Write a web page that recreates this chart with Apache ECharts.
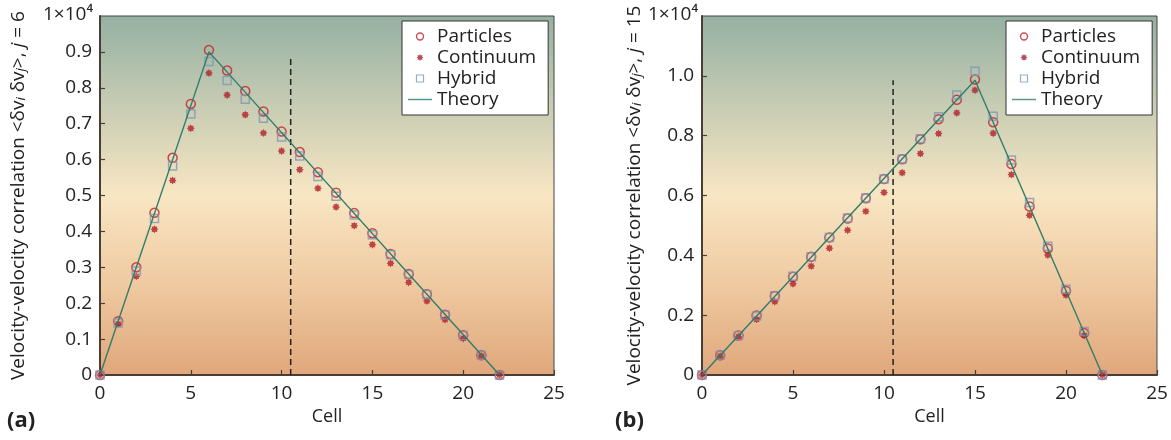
<!DOCTYPE html>
<html>
<head>
<meta charset="utf-8">
<script src="https://cdn.jsdelivr.net/npm/echarts@6/dist/echarts.min.js"></script>
<style>
html,body{margin:0;padding:0;background:#fff;}
#c{width:1171px;height:440px;}
</style>
</head>
<body>
<div id="c"></div>
<script>
// ---- data (values in units of 1x10^4) ----
var cells = [0,1,2,3,4,5,6,7,8,9,10,11,12,13,14,15,16,17,18,19,20,21,22];

var aParticles = [0,0.150,0.300,0.452,0.605,0.755,0.905,0.848,0.791,0.734,0.678,0.621,0.565,0.508,0.451,0.395,0.337,0.281,0.225,0.168,0.111,0.055,0];
var aContinuum = [0,0.142,0.275,0.406,0.542,0.687,0.841,0.780,0.725,0.674,0.624,0.572,0.520,0.468,0.416,0.363,0.311,0.258,0.206,0.154,0.102,0.053,0];
var aHybrid    = [0,0.145,0.290,0.436,0.582,0.727,0.873,0.820,0.768,0.715,0.663,0.610,0.553,0.498,0.446,0.391,0.335,0.280,0.224,0.167,0.110,0.055,0];
var aTheoryX = [0,6,22];
var aTheoryY = [0,0.9,0];
var aDashX = [10.5,10.5];
var aDashY = [0,0.89];

var bParticles = [0,0.066,0.132,0.199,0.264,0.328,0.395,0.460,0.523,0.591,0.655,0.721,0.788,0.855,0.920,0.988,0.845,0.705,0.563,0.423,0.281,0.140,0];
var bContinuum = [0,0.063,0.128,0.186,0.245,0.305,0.364,0.424,0.484,0.547,0.610,0.676,0.740,0.807,0.876,0.952,0.808,0.670,0.534,0.401,0.267,0.132,0];
var bHybrid    = [0,0.066,0.131,0.197,0.265,0.330,0.395,0.460,0.525,0.592,0.655,0.722,0.790,0.863,0.936,1.015,0.865,0.719,0.577,0.430,0.287,0.145,0];
var bTheoryX = [0,15,22];
var bTheoryY = [0,0.985,0];
var bDashX = [10.5,10.5];
var bDashY = [0,0.985];

var seriesNames = ['Particles','Continuum','Hybrid','Theory'];
var xTicks = {min:0, max:25, interval:5};
var aY = {min:0, max:1.0, interval:0.1};
var bY = {min:0, max:1.2, interval:0.2};
var topLabel = '1×10⁴';

function pairs(xs, ys){ return xs.map(function(x,i){ return [x, ys[i]]; }); }

var FONT = '"Open Sans", "Noto Sans", sans-serif';
var RED = '#c4222b';
var RED2 = '#b01e28';
var BLUE = '#7f97b4';
var TEAL = '#2f7d6a';
var STAR = 'path://M0,-10 L2.49,-6 L7.07,-7.07 L6,-2.49 L10,0 L6,2.49 L7.07,7.07 L2.49,6 L0,10 L-2.49,6 L-7.07,7.07 L-6,2.49 L-10,0 L-6,-2.49 L-7.07,-7.07 L-2.49,-6 Z';
var SQUARE = 'path://M0,0 L10,0 L10,10 L0,10 Z';
var BAR = 'path://M0,0 L24,0 L24,1.5 L0,1.5 Z';

function bg(){
  return new echarts.graphic.LinearGradient(0,0,0,1,[
    {offset:0, color:'#94b0a2'},
    {offset:0.25, color:'#c7ccb3'},
    {offset:0.5, color:'#f8e6c3'},
    {offset:0.75, color:'#efc9a0'},
    {offset:1, color:'#e0a77b'}
  ]);
}

function yAxisFor(idx, cfg, name, gap){
  return {
    type:'value', gridIndex:idx, min:cfg.min, max:cfg.max, interval:cfg.interval,
    axisLine:{show:true, lineStyle:{color:'#4a3d33', width:2}},
    axisTick:{show:true, inside:true, length:5, lineStyle:{color:'#4a3d33', width:1.2}},
    splitLine:{show:false},
    axisLabel:{color:'#222', fontFamily:FONT, fontSize:19, margin:8, showMaxLabel:false,
      formatter:function(v){
        if (v === 0) return '0';
        return v.toFixed(1);
      }
    },
    name:name, nameLocation:'middle', nameRotate:90, nameGap:gap,
    nameTextStyle:{color:'#222', fontFamily:FONT, fontSize:19,
      rich:{
        s:{fontSize:13, fontFamily:FONT, fontStyle:'italic', color:'#222', verticalAlign:'bottom', lineHeight:15},
        it:{fontSize:19, fontFamily:FONT, fontStyle:'italic', color:'#222'}
      }}
  };
}

function xAxisFor(idx){
  return {
    type:'value', gridIndex:idx, min:xTicks.min, max:xTicks.max, interval:xTicks.interval,
    axisLine:{show:true, onZero:false, lineStyle:{color:'#4a3d33', width:2}},
    axisTick:{show:true, inside:true, length:5, lineStyle:{color:'#4a3d33', width:1.2}},
    splitLine:{show:false},
    axisLabel:{color:'#222', fontFamily:FONT, fontSize:19, margin:9},
    name:'Cell', nameLocation:'middle', nameGap:29,
    nameTextStyle:{color:'#222', fontFamily:FONT, fontSize:18}
  };
}

function seriesFor(idx, P, C, H, TX, TY, DX, DY){
  return [
    {name:'Particles', type:'scatter', xAxisIndex:idx, yAxisIndex:idx, symbol:'circle', symbolSize:9,
      itemStyle:{color:'rgba(0,0,0,0)', borderColor:RED, borderWidth:1.5}, data:pairs(cells,P), z:3},
    {name:'Continuum', type:'scatter', xAxisIndex:idx, yAxisIndex:idx, symbol:STAR, symbolSize:8,
      itemStyle:{color:RED2}, data:pairs(cells,C), z:3},
    {name:'Hybrid', type:'scatter', xAxisIndex:idx, yAxisIndex:idx, symbol:'rect', symbolSize:8,
      itemStyle:{color:'rgba(0,0,0,0)', borderColor:BLUE, borderWidth:1.5}, data:pairs(cells,H), z:3},
    {name:'Theory', type:'line', xAxisIndex:idx, yAxisIndex:idx, symbol:'none', showSymbol:false,
      lineStyle:{color:TEAL, width:1.4}, itemStyle:{color:TEAL}, data:pairs(TX,TY), z:4, animation:false},
    {name:'dash', type:'line', xAxisIndex:idx, yAxisIndex:idx, symbol:'none', showSymbol:false,
      lineStyle:{color:'#222', width:1.5, type:[6,4]}, data:pairs(DX,DY), z:2, animation:false}
  ];
}

function legendFor(left){
  return {
    data:[
      {name:'Particles', icon:'circle', itemStyle:{color:'rgba(0,0,0,0)', borderColor:RED, borderWidth:1.4}},
      {name:'Continuum', icon:STAR, itemStyle:{color:RED2}},
      {name:'Hybrid', icon:SQUARE, itemStyle:{color:'rgba(0,0,0,0)', borderColor:BLUE, borderWidth:1.2}},
      {name:'Theory', icon:BAR, itemStyle:{color:'#5a9a88', borderWidth:0}}
    ],
    orient:'vertical', left:left, top:21,
    backgroundColor:'#fff', borderColor:'#333', borderWidth:1,
    padding:[5,12,5,6], itemGap:0, itemWidth:24, itemHeight:7,
    selectedMode:false,
    textStyle:{color:'#222', fontFamily:FONT, fontSize:19, lineHeight:21}
  };
}

var chart = echarts.init(document.getElementById('c'), null, {renderer:'canvas'});
chart.setOption({
  animation:false,
  backgroundColor:'#fff',
  grid:[
    {left:100, top:16, width:454, height:359, show:true, backgroundColor:bg(), borderColor:'#444', borderWidth:1},
    {left:702, top:16, width:455, height:359, show:true, backgroundColor:bg(), borderColor:'#444', borderWidth:1}
  ],
  xAxis:[xAxisFor(0), xAxisFor(1)],
  yAxis:[
    yAxisFor(0, aY, 'Velocity-velocity correlation <δv{s|i} δv{s|j}>, {it|j} = 6', 72),
    yAxisFor(1, bY, 'Velocity-velocity correlation <δv{s|i} δv{s|j}>, {it|j} = 15', 58)
  ],
  legend:[legendFor(402), legendFor(1006)],
  series: seriesFor(0, aParticles, aContinuum, aHybrid, aTheoryX, aTheoryY, aDashX, aDashY)
    .concat(seriesFor(1, bParticles, bContinuum, bHybrid, bTheoryX, bTheoryY, bDashX, bDashY)),
  graphic:[
    {type:'text', left:7, top:410, style:{text:'(a)', font:'bold 22px ' + FONT, fill:'#222'}},
    {type:'text', left:615, top:410, style:{text:'(b)', font:'bold 22px ' + FONT, fill:'#222'}},
    {type:'text', right:1171-93, top:5, style:{text:topLabel, font:'19px ' + FONT, fill:'#222'}},
    {type:'text', right:1171-698, top:5, style:{text:topLabel, font:'19px ' + FONT, fill:'#222'}}
  ]
});
</script>
</body>
</html>
